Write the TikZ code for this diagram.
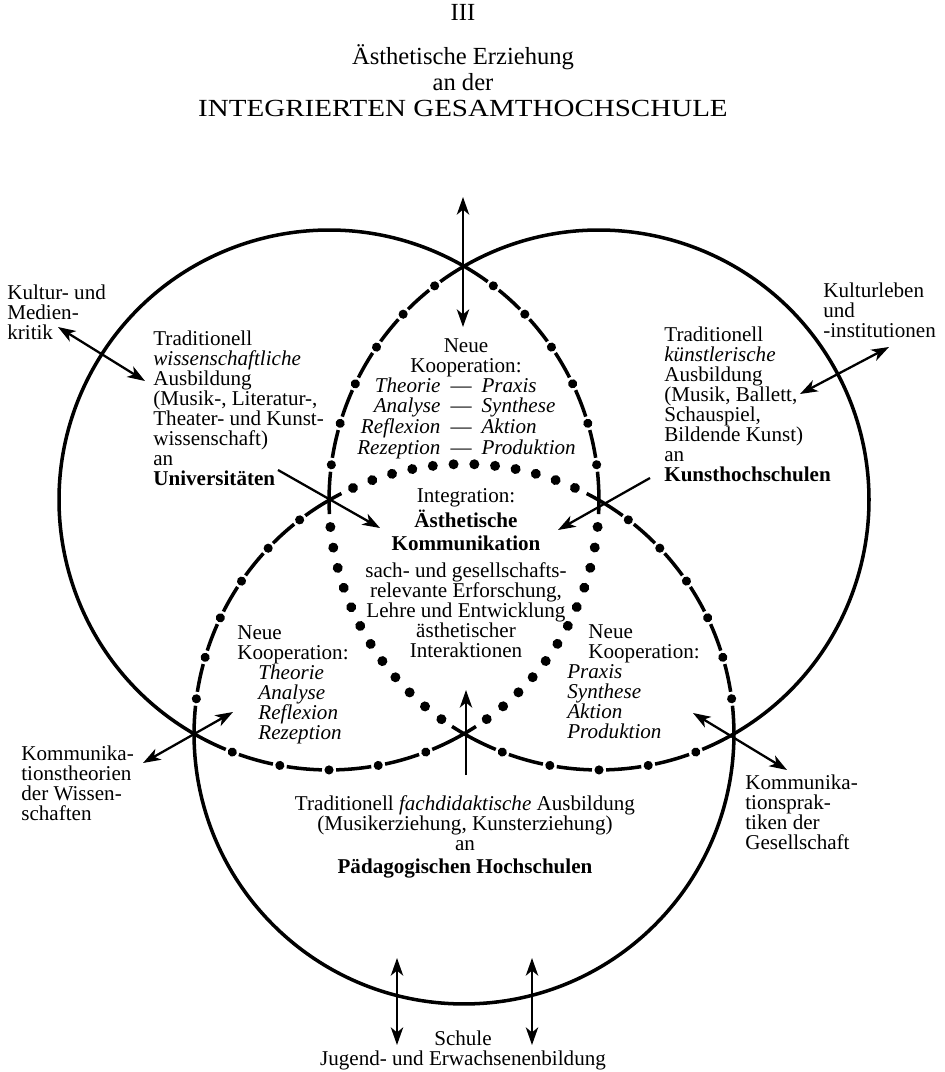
\documentclass[tikz,border=0pt]{standalone}
\usepackage{fontspec}
\setmainfont{Liberation Serif}
\usetikzlibrary{arrows.meta,decorations.markings}

\newcommand{\vennr}{5.4cm}
\newcommand{\fl}{\rule{0pt}{9pt}}

\begin{document}
\begin{tikzpicture}[x=0.02cm, y=-0.02cm,
    >={Stealth[length=10pt, width=7pt, inset=2.8pt]},
    txt/.style={inner sep=0pt, font=\fontsize{12}{11.4}\selectfont},
    tight/.style={txt, execute at begin node={\lineskiplimit=-\maxdimen}},
    headline/.style={inner sep=0pt, font=\fontsize{14}{16}\selectfont},
    solidarc/.style={line width=2pt},
    dashsix/.style={line width=2pt, dash pattern=on 16.13pt off 8pt,
      postaction={decorate, decoration={markings,
        mark=between positions 20.13pt and 1 step 24.13pt with {\fill circle (2.6pt);}}}},
    dashfive/.style={line width=2pt, dash pattern=on 20.15pt off 8pt,
      postaction={decorate, decoration={markings,
        mark=between positions 24.15pt and 1 step 28.15pt with {\fill circle (2.6pt);}}}},
    dotrow/.style={line width=2pt, dash pattern=on 8pt off 144.89pt on 8pt off 20pt,
      postaction={decorate, decoration={markings,
        mark=between positions 15.4pt and 150pt step 11.83pt with {\fill circle (2.85pt);}}}},
    link/.style={line width=1.3pt}]

  \useasboundingbox (0,0) rectangle (945,1072);

%% Heading
  \node[headline, anchor=base] (roman) at (463,20) {III};
  \node[headline, anchor=base] (head1) at (463,64) {Ästhetische Erziehung};
  \node[headline, anchor=base] (head2) at (463,90) {an der};
  \node[headline, anchor=base] (head3) at (463,116) {\scalebox{1.18}[1]{INTEGRIERTEN GESAMTHOCHSCHULE}};

%% Circle centres
  \coordinate (cL) at (329,500);
  \coordinate (cR) at (599,500);
  \coordinate (cB) at (464,734);

%% Left circle
  \draw[solidarc] ([shift={(cL)}]60:\vennr) arc[start angle=60, end angle=240, radius=\vennr];
  \draw[dashfive] ([shift={(cL)}]240:\vennr) arc[start angle=240, end angle=300, radius=\vennr];
  \draw[dotrow] ([shift={(cL)}]300:\vennr) arc[start angle=300, end angle=360, radius=\vennr];
  \draw[dashsix] ([shift={(cL)}]0:\vennr) arc[start angle=0, end angle=60, radius=\vennr];
%% Right circle
  \draw[solidarc] ([shift={(cR)}]-60:\vennr) arc[start angle=-60, end angle=120, radius=\vennr];
  \draw[dashsix] ([shift={(cR)}]120:\vennr) arc[start angle=120, end angle=180, radius=\vennr];
  \draw[dotrow] ([shift={(cR)}]180:\vennr) arc[start angle=180, end angle=240, radius=\vennr];
  \draw[dashfive] ([shift={(cR)}]240:\vennr) arc[start angle=240, end angle=300, radius=\vennr];
%% Bottom circle
  \draw[solidarc] ([shift={(cB)}]180:\vennr) arc[start angle=180, end angle=360, radius=\vennr];
  \draw[dashsix] ([shift={(cB)}]0:\vennr) arc[start angle=0, end angle=60, radius=\vennr];
  \draw[dotrow] ([shift={(cB)}]60:\vennr) arc[start angle=60, end angle=120, radius=\vennr];
  \draw[dashsix] ([shift={(cB)}]120:\vennr) arc[start angle=120, end angle=180, radius=\vennr];

%% Texts
  \node[tight, align=left, anchor=north west] (medien) at (7,283)
    {\fl Kultur- und\\Medien-\\kritik};
  \node[tight, align=left, anchor=north west] (kultur) at (823,281)
    {\fl Kulturleben\\und\\-institutionen};
  \node[tight, align=left, anchor=north west] (uni) at (153,329)
    {\fl Traditionell\\\textit{wissenschaftliche}\\Ausbildung\\(Musik-, Literatur-,\\Theater- und Kunst-\\wissenschaft)\\an\\\textbf{Universitäten}};
  \node[tight, align=left, anchor=north west] (kunst) at (664,325)
    {\fl Traditionell\\\textit{künstlerische}\\Ausbildung\\(Musik, Ballett,\\Schauspiel,\\Bildende Kunst)\\an\\\textbf{Kunsthochschulen}};
  \node[tight, align=center, anchor=north] (coopTop) at (466,336)
    {\fl Neue\\Kooperation:};
  \node[txt, anchor=base west] (pairs) at (357,392)
    {\begin{tabular}[t]{@{}r@{\hspace{5.7pt}---\hspace{5.7pt}}l@{}}
      \textit{Theorie} & \textit{Praxis}\\
      \textit{Analyse} & \textit{Synthese}\\
      \textit{Reflexion} & \textit{Aktion}\\
      \textit{Rezeption} & \textit{Produktion}
    \end{tabular}};
  \node[tight, align=center, anchor=north] (integ) at (466,486)
    {\fl Integration:\\[2.8pt]\textbf{Ästhetische}\\[1.7pt]\textbf{Kommunikation}\\[4pt]sach- und gesellschafts-\\relevante Erforschung,\\Lehre und Entwicklung\\ästhetischer\\Interaktionen};
  \node[tight, align=left, anchor=north west] (coopL) at (237,623)
    {\fl Neue\\Kooperation:\\\hspace*{12pt}\textit{Theorie}\\\hspace*{12pt}\textit{Analyse}\\\hspace*{12pt}\textit{Reflexion}\\\hspace*{12pt}\textit{Rezeption}};
  \node[tight, align=left, anchor=north west] (coopR) at (567,622)
    {\fl\hspace*{12pt}Neue\\\hspace*{12pt}Kooperation:\\\textit{Praxis}\\\textit{Synthese}\\\textit{Aktion}\\\textit{Produktion}};
  \node[tight, align=left, anchor=north west] (theorien) at (21,744)
    {\fl Kommunika-\\tionstheorien\\der Wissen-\\schaften};
  \node[tight, align=left, anchor=north west] (praktiken) at (745,773)
    {\fl Kommunika-\\tionsprak-\\tiken der\\Gesellschaft};
  \node[tight, align=center, anchor=north] (paed) at (465,794)
    {\fl Traditionell \textit{fachdidaktische} Ausbildung\\(Musikerziehung, Kunsterziehung)\\an\\[1.7pt]\textbf{Pädagogischen Hochschulen}};
  \node[tight, align=center, anchor=north] (schule) at (463,1029)
    {\fl Schule\\Jugend- und Erwachsenenbildung};

%% Arrow ends
  \coordinate (topU) at (463,197);  \coordinate (topD) at (463,327);
  \coordinate (medA) at (58,327);   \coordinate (medB) at (145,381);
  \coordinate (kulA) at (889,347);  \coordinate (kulB) at (800,394);
  \coordinate (uniA) at (278,470);  \coordinate (uniB) at (380,528);
  \coordinate (kunA) at (650,478);  \coordinate (kunB) at (558,530);
  \coordinate (theA) at (143,763);  \coordinate (theB) at (233,712);
  \coordinate (praA) at (693,713);  \coordinate (praB) at (787,770);
  \coordinate (midA) at (466,775);  \coordinate (midB) at (466,690);
  \coordinate (schA) at (397,958);  \coordinate (schB) at (397,1045);
  \coordinate (schC) at (532,958);  \coordinate (schD) at (532,1045);

%% Arrows
  \draw[link, <->] (topU) -- (topD);
  \draw[link, <->] (medA) -- (medB);
  \draw[link, <->] (kulA) -- (kulB);
  \draw[link, ->] (uniA) -- (uniB);
  \draw[link, ->] (kunA) -- (kunB);
  \draw[link, <->] (theA) -- (theB);
  \draw[link, <->] (praA) -- (praB);
  \draw[link, ->] (midA) -- (midB);
  \draw[link, <->] (schA) -- (schB);
  \draw[link, <->] (schC) -- (schD);

\end{tikzpicture}
\end{document}
